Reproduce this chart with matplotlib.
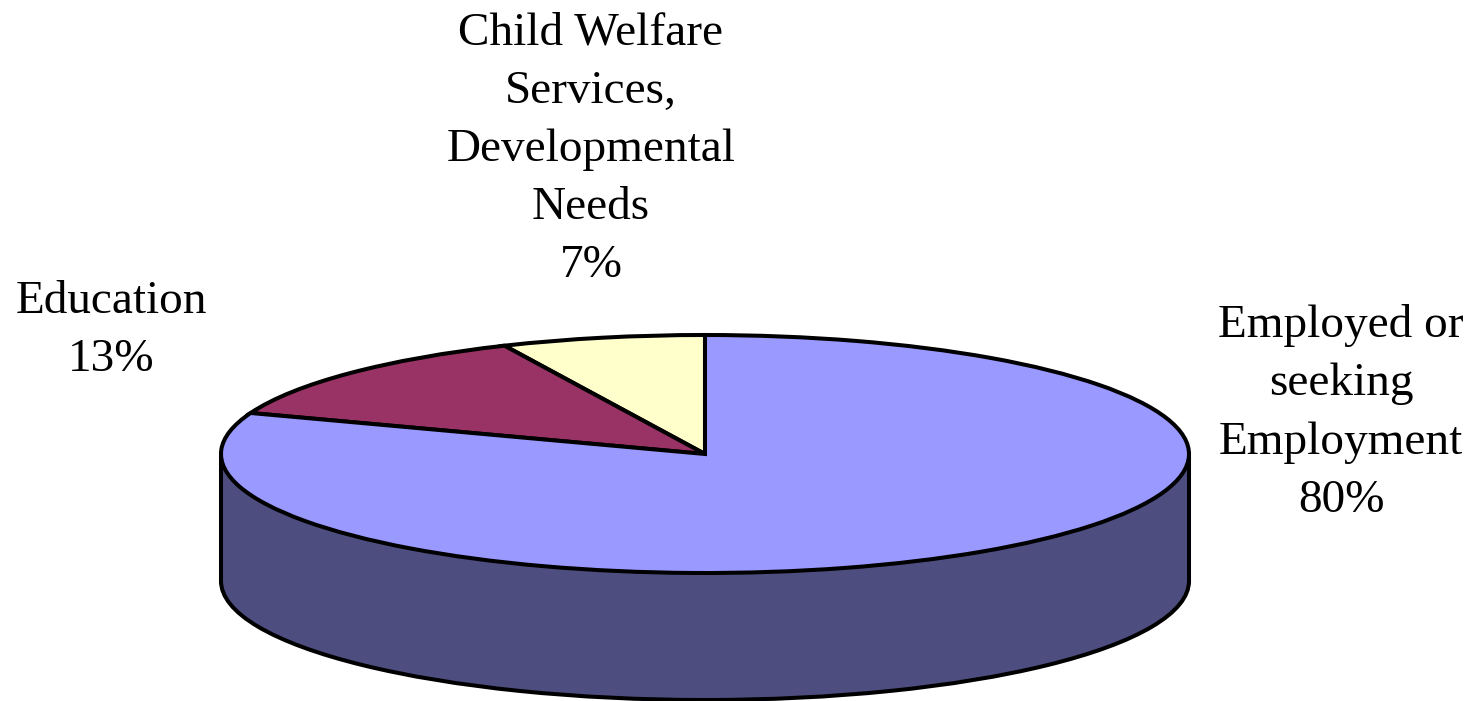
import matplotlib
matplotlib.use('Agg')
import matplotlib.pyplot as plt
from matplotlib.patches import Rectangle

# Shares, counter-clockwise from 12 o'clock (slice sizes as drawn, labels as printed)
labels = ['Child Welfare\nServices,\nDevelopmental\nNeeds\n7%', 'Education\n13%', 'Employed or\nseeking\nEmployment\n80%']
values = [6.8, 12.6, 80.6]
top_colors = ['#FFFFCC', '#993366', '#9999FF']
wall_color = '#4D4D80'

W, H = 1477, 701
cx, cy, rx, ry = 705, 454, 484, 119
depth = 127

fig = plt.figure(figsize=(W / 100, H / 100), dpi=100)
ax = fig.add_axes([0, 0, 1, 1])

edge = {'edgecolor': 'black', 'linewidth': 2.9}

# bottom of the cylinder, then the wall between the two ellipses
bottom_y = -depth / ry
ax.pie([1], radius=1, center=(0, bottom_y), colors=[wall_color], wedgeprops=edge, frame=True)
ax.add_patch(Rectangle((-1, bottom_y), 2, -bottom_y, facecolor=wall_color, edgecolor='none', zorder=2))
ax.plot([-1, -1], [bottom_y, 0], color='black', lw=2.9, zorder=3)
ax.plot([1, 1], [bottom_y, 0], color='black', lw=2.9, zorder=3)

# top face
wedges, _ = ax.pie(values, radius=1, startangle=90, colors=top_colors, wedgeprops=edge, frame=True)
for w in wedges:
    w.set_zorder(4)

ax.set_aspect('auto')
ax.set_xlim(-cx / rx, (W - cx) / rx)
ax.set_ylim(-(H - cy) / ry, cy / ry)
ax.axis('off')

font = dict(family='Liberation Serif', fontsize=34, ha='center', va='center', linespacing=1.48, color='black')
fig.text(591 / W, 1 - 149.5 / H, labels[0], **font)
fig.text(111 / W, 1 - 331 / H, labels[1], **font)
fig.text(1341 / W, 1 - 413 / H, labels[2], **font)

fig.savefig('out.png', dpi=100)
